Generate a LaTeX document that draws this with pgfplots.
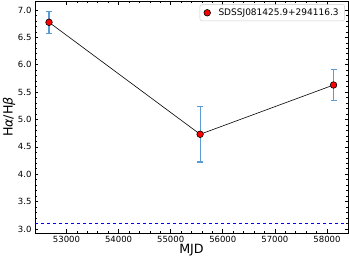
\documentclass[border=0pt]{standalone}
\usepackage{fontspec}
\setmainfont{DejaVu Sans}
\usepackage{pgfplots}
\pgfplotsset{compat=1.18}
\definecolor{errblue}{RGB}{90,155,212}
\definecolor{pureblue}{RGB}{0,0,255}
\pgfplotstableread{
x y
52395 3.1
58404 3.1
}\reflinetab
\begin{document}
\begin{tikzpicture}
\begin{axis}[
  name=ax,
  scale only axis,
  width=313pt, height=232pt,
  xmin=52395, xmax=58404,
  ymin=2.927, ymax=7.164,
  xtick={53000,54000,55000,56000,57000,58000},
  ytick={3.0,3.5,4.0,4.5,5.0,5.5,6.0,6.5,7.0},
  scaled x ticks=false,
  yticklabel style={/pgf/number format/fixed, /pgf/number format/fixed zerofill, /pgf/number format/precision=1},
  xticklabel style={/pgf/number format/set thousands separator={}, /pgf/number format/fixed},
  /pgf/number format/assume math mode=true,
  minor x tick num=4,
  minor y tick num=4,
  tick align=inside,
  xtick pos=both, ytick pos=both,
  major tick length=3.5pt,
  minor tick length=2pt,
  tick style={black, line width=0.6pt},
  axis line style={black, line width=0.8pt},
  ticklabel style={font=\fontsize{8.5}{10}\selectfont},
  xlabel={MJD},
  ylabel={H\textit{α}/H\textit{β}},
  label style={font=\fontsize{12.7}{14}\selectfont},
  xlabel style={at={(axis description cs:0.5,0)}, anchor=center, yshift=-17pt},
  ylabel style={at={(axis description cs:0,0.5)}, anchor=center, yshift=26pt},
  legend style={at={(0.99,0.985)}, anchor=north east, font=\fontsize{9}{10}\selectfont,
    draw=black!20, rounded corners=2pt, inner xsep=4pt, inner ysep=2pt, row sep=0pt,
    /tikz/every odd column/.append style={column sep=6pt}},
  legend image code/.code={\draw[#1] plot coordinates {(0.2cm,0cm)};},
  legend cell align=left,
  clip=false,
]
\addplot[black, line width=0.6pt, forget plot] coordinates {(52664,6.775) (55565,4.73) (58127,5.63)};
\addplot[draw=none, forget plot, error bars/.cd, y dir=both, y explicit,
  error bar style={errblue, line width=1.2pt},
  error mark options={errblue, line width=1.2pt, mark size=3pt, rotate=90}]
  coordinates {(52664,6.775) +- (0,0.2) (55565,4.73) +- (0,0.505) (58127,5.63) +- (0,0.28)};
\addplot[only marks, mark=*, mark size=3.3pt, mark options={fill=red, draw=black, line width=0.6pt}]
  coordinates {(52664,6.775) (55565,4.73) (58127,5.63)};
\addlegendentry{SDSSJ081425.9+294116.3}
\addplot+[pureblue, very thick, dashed, mark=none, no markers, forget plot] table[x=x, y=y] {\reflinetab};
\end{axis}
\pgfresetboundingbox
\path[use as bounding box] ([shift={(-35pt,-29pt)}]ax.south west) rectangle ([shift={(1pt,1pt)}]ax.north east);
\end{tikzpicture}
\end{document}
